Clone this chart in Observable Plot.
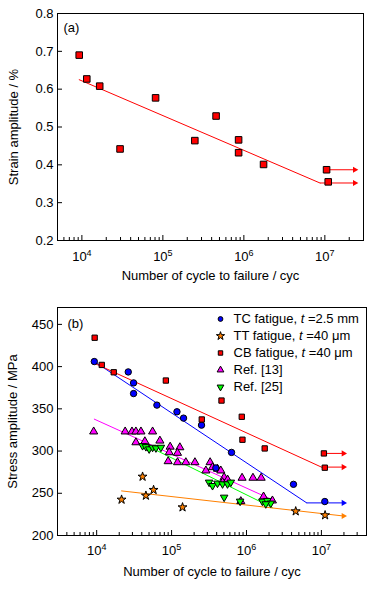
<!DOCTYPE html>
<html><head><meta charset="utf-8">
<script src="https://cdn.jsdelivr.net/npm/d3@7"></script>
<script src="https://cdn.jsdelivr.net/npm/@observablehq/plot@0.6"></script>
<style>
body{margin:0;background:#fff;font-family:"Liberation Sans",Arial,sans-serif}
#wrap{position:relative;width:375px;height:590px;background:#fff}
#pa{position:absolute;left:0;top:0}
#pb{position:absolute;left:0;top:290px}
svg text{white-space:pre}
</style></head>
<body><div id="wrap"><div id="pa"></div><div id="pb"></div></div>
<script>
// ---------- Panel (a) data ----------
const aCycles = [9270, 11500, 16600, 29600, 81300, 248000, 454000, 861000, 861000, 1750000, 10500000, 11000000];
const aStrain = [0.690, 0.627, 0.608, 0.442, 0.577, 0.464, 0.529, 0.466, 0.432, 0.401, 0.387, 0.355];
const aFitCycles = [9270, 8700000];
const aFitStrain = [0.625, 0.352];
const aRunFrom = [8700000, 10500000];
const aRunTo = [23400000, 23400000];
const aRunStrain = [0.352, 0.387];
const aYTicks = [0.2, 0.3, 0.4, 0.5, 0.6, 0.7, 0.8];

// ---------- Panel (b) data ----------
const tcCycles = [9300, 26400, 31100, 31100, 63700, 118000, 144500, 251000, 390000, 631000, 4240000, 11100000];
const tcStress = [406, 393.7, 380.7, 368.1, 354.4, 346.5, 339, 330.7, 280, 298.4, 260.6, 240.2];
const ttCycles = [21500, 41000, 45400, 57500, 140000, 4540000, 11200000];
const ttStress = [242.5, 269.7, 247.2, 254, 233.4, 228.7, 224];
const cbCycles = [9400, 11700, 16900, 83900, 253000, 464000, 865000, 883000, 1750000, 10800000, 11100000];
const cbStress = [434.2, 402, 393.3, 383.5, 337.4, 359.8, 340.6, 313.4, 303.1, 297.2, 280.3];
const r13Cycles = [9120, 24000, 29600, 33400, 39000, 55800, 33400, 44000, 69800, 95700, 129000, 120000, 93000, 90000, 120000, 155000, 205000, 327000, 287000, 410000, 454000, 503000, 479000, 352000, 560000, 873000, 1220000, 1570000, 1690000, 2220000, 840000];
const r13Stress = [323, 323, 323, 323, 323, 323, 310.2, 311.4, 312.2, 305, 304.3, 297.7, 298.4, 287.8, 286.6, 286.6, 286.6, 286.6, 276.8, 278.8, 276.8, 268.9, 263, 280.7, 266, 268.2, 268.2, 268.2, 246, 241.3, 240.5];
const r25Cycles = [41000, 45400, 50200, 55800, 61800, 72000, 317000, 352000, 410000, 479000, 558000, 618000, 503000, 822000, 1630000, 1900000, 2110000, 1810000];
const r25Stress = [306.3, 305.1, 302.4, 304.3, 303.6, 304.3, 263, 259, 261.8, 261, 261, 263, 245.2, 240.5, 240.5, 241.3, 238.2, 237.4];

const tcFitCycles = [9300, 6370000], tcFitStress = [406, 238.6];
const cbFitCycles = [9300, 10000000], cbFitStress = [404, 281];
const r13FitCycles = [9300, 2220000], r13FitStress = [337.8, 242.2];
const r25FitCycles = [43000, 2220000], r25FitStress = [308, 233];
const ttFitCycles = [21500, 19700000], ttFitStress = [252.8, 223.1];

const bRunFrom = [6370000, 10000000, 10800000];
const bRunTo = [19700000, 19700000, 19700000];
const bRunStress = [238.6, 281, 297.2];
const bRunColor = ["#0000ff", "#ff0000", "#ff0000"];

const bYTicks = [200, 250, 300, 350, 400, 450];
const xMajorA = [1e4, 1e5, 1e6, 1e7];
const xMajorB = [1e4, 1e5, 1e6, 1e7];

const legendLabels = ["TC fatigue, t =2.5 mm", "TT fatigue, t =40 μm", "CB fatigue, t =40 μm", "Ref. [13]", "Ref. [25]"];
const xLabel = "Number of cycle to failure / cyc";
const yLabelA = "Strain amplitude / %";
const yLabelB = "Stress amplitude / MPa";

// ---------- helpers ----------
const zip = (xs, ys) => xs.map((n, i) => ({n, s: ys[i]}));
const minorTicks = (lo, hi) => { const o = []; for (let e = 3; e <= 7; e++) for (let m = 2; m <= 9; m++) { const v = m * 10 ** e; if (v > lo * 1.0001 && v < hi * 0.9999) o.push(v); } return o; };
const triDown = {draw(c, s) { const y = Math.sqrt(s / (Math.sqrt(3) * 3)), x = Math.sqrt(3) * y; c.moveTo(0, 2 * y); c.lineTo(-x, -y); c.lineTo(x, -y); c.closePath(); }};
const triRight = {draw(c, s) { const y = Math.sqrt(s / (Math.sqrt(3) * 3)), x = Math.sqrt(3) * y; c.moveTo(2 * y, 0); c.lineTo(-y, -x); c.lineTo(-y, x); c.closePath(); }};
const expFmt = d => "10^" + Math.round(Math.log10(d));
const style = {fontFamily: "'Liberation Sans', Arial, sans-serif", fontSize: "13px", color: "black", background: "white", overflow: "visible"};

function supers(svg) {
  d3.select(svg).selectAll('g[aria-label="x-axis tick label"] text').each(function () {
    const t = this.textContent; const p = t.split("^"); if (p.length < 2) return;
    this.textContent = p[0];
    d3.select(this).append("tspan").attr("dy", "-5").attr("font-size", "9").text(p[1]);
  });
}
function italics(svg) {
  d3.select(svg).selectAll("text").each(function () {
    const t = this.textContent; const k = t.indexOf(", t =");
    if (k < 0) return;
    const sel = d3.select(this); this.textContent = "";
    sel.append("tspan").text(t.slice(0, k + 2));
    sel.append("tspan").attr("font-style", "italic").text("t");
    sel.append("tspan").text(t.slice(k + 3));
  });
}

// ---------- Panel (a) ----------
const HA = 290, mTA = 13, mBA = 50, mLA = 57, mRA = 12;
const ihA = HA - mTA - mBA, iwA = 375 - mLA - mRA;
const runA = aRunFrom.map((f, i) => ({from: f, to: aRunTo[i], s: aRunStrain[i]}));
const A = Plot.plot({
  width: 375, height: HA, marginLeft: mLA, marginRight: mRA, marginTop: mTA, marginBottom: mBA,
  style,
  x: {type: "log", domain: [5000, 3e7], axis: null},
  y: {domain: [0.2, 0.8], axis: null},
  marks: [
    Plot.frame({stroke: "black"}),
    Plot.tickX(minorTicks(5000, 3e7), {x: d => d, insetTop: ihA - 3, stroke: "black"}),
    Plot.tickX(xMajorA, {x: d => d, insetTop: ihA - 5, stroke: "black"}),
    Plot.tickY(aYTicks, {y: d => d, insetRight: iwA - 5, stroke: "black"}),
    Plot.axisX(xMajorA, {tickSize: 0, tickPadding: 11, tickFormat: expFmt, label: null}),
    Plot.axisY(aYTicks, {tickSize: 0, tickPadding: 4, tickFormat: d3.format(".1f"), label: null}),
    Plot.text([xLabel], {frameAnchor: "bottom", dy: 35, textAnchor: "middle", lineAnchor: "middle"}),
    Plot.text([yLabelA], {frameAnchor: "left", dx: -44, rotate: -90, textAnchor: "middle", lineAnchor: "middle"}),
    Plot.text(["(a)"], {frameAnchor: "top-left", dx: 6, dy: 14, textAnchor: "start", lineAnchor: "middle"}),
    Plot.line(zip(aFitCycles, aFitStrain), {x: "n", y: "s", stroke: "#ff0000", strokeWidth: 1}),
    Plot.link(runA, {x1: "from", x2: "to", y1: "s", y2: "s", stroke: "#ff0000", strokeWidth: 1}),
    Plot.dot(runA, {x: "to", y: "s", symbol: triRight, r: 2.3, fill: "#ff0000"}),
    Plot.dot(zip(aCycles, aStrain), {x: "n", y: "s", symbol: "square", r: 3.7, fill: "#ff0000", stroke: "black", strokeWidth: 1})
  ]
});
supers(A);
document.getElementById("pa").append(A);

// ---------- Panel (b) ----------
const HB = 300, mTB = 17, mBB = 55, mLB = 57, mRB = 9;
const ihB = HB - mTB - mBB, iwB = 375 - mLB - mRB;
const runB = bRunFrom.map((f, i) => ({from: f, to: bRunTo[i], s: bRunStress[i], c: bRunColor[i]}));
const ttEnd = [{n: ttFitCycles[1], s: ttFitStress[1]}];
const legSym = ["circle", "star", "square", "triangle", triDown];
const legFill = ["#0000ff", "#ff8000", "#ff0000", "#ff00ff", "#00ff00"];
const legR = [2.4, 2.6, 2.5, 2.5, 2.5];
const legendMarks = legendLabels.flatMap((lab, i) => [
  Plot.dot([lab], {frameAnchor: "top-left", dx: 163, dy: 11.5 + 17 * i, symbol: legSym[i], r: legR[i], fill: legFill[i], stroke: "black", strokeWidth: 1}),
  Plot.text([lab], {frameAnchor: "top-left", dx: 176, dy: 11.5 + 17 * i, textAnchor: "start", lineAnchor: "middle"})
]);
const B = Plot.plot({
  width: 375, height: HB, marginLeft: mLB, marginRight: mRB, marginTop: mTB, marginBottom: mBB,
  style,
  x: {type: "log", domain: [3000, 4e7], axis: null},
  y: {domain: [200, 470], axis: null},
  marks: [
    Plot.frame({stroke: "black"}),
    Plot.tickX(minorTicks(3000, 4e7), {x: d => d, insetTop: ihB - 3, stroke: "black"}),
    Plot.tickX(xMajorB, {x: d => d, insetTop: ihB - 5, stroke: "black"}),
    Plot.tickY(bYTicks, {y: d => d, insetRight: iwB - 5, stroke: "black"}),
    Plot.axisX(xMajorB, {tickSize: 0, tickPadding: 10, tickFormat: expFmt, label: null}),
    Plot.axisY(bYTicks, {tickSize: 0, tickPadding: 4, tickFormat: d => String(d), label: null}),
    Plot.text([xLabel], {frameAnchor: "bottom", dy: 36.5, textAnchor: "middle", lineAnchor: "middle"}),
    Plot.text([yLabelB], {frameAnchor: "left", dx: -45, rotate: -90, textAnchor: "middle", lineAnchor: "middle"}),
    Plot.text(["(b)"], {frameAnchor: "top-left", dx: 10, dy: 16, textAnchor: "start", lineAnchor: "middle"}),
    Plot.line(zip(r13FitCycles, r13FitStress), {x: "n", y: "s", stroke: "#ff00ff", strokeWidth: 1}),
    Plot.line(zip(r25FitCycles, r25FitStress), {x: "n", y: "s", stroke: "#00ff00", strokeWidth: 1}),
    Plot.line(zip(ttFitCycles, ttFitStress), {x: "n", y: "s", stroke: "#ff8000", strokeWidth: 1}),
    Plot.dot(ttEnd, {x: "n", y: "s", symbol: triRight, r: 2.3, fill: "#ff8000"}),
    Plot.line(zip(tcFitCycles, tcFitStress), {x: "n", y: "s", stroke: "#0000ff", strokeWidth: 1}),
    Plot.line(zip(cbFitCycles, cbFitStress), {x: "n", y: "s", stroke: "#ff0000", strokeWidth: 1}),
    Plot.link(runB, {x1: "from", x2: "to", y1: "s", y2: "s", stroke: "c", strokeWidth: 1}),
    Plot.dot(runB, {x: "to", y: "s", symbol: triRight, r: 2.3, fill: "c"}),
    Plot.dot(zip(r13Cycles, r13Stress), {x: "n", y: "s", symbol: "triangle", r: 3.0, fill: "#ff00ff", stroke: "black", strokeWidth: 1}),
    Plot.dot(zip(r25Cycles, r25Stress), {x: "n", y: "s", symbol: triDown, r: 2.8, fill: "#00ff00", stroke: "black", strokeWidth: 1}),
    Plot.dot(zip(tcCycles, tcStress), {x: "n", y: "s", symbol: "circle", r: 3.2, fill: "#0000ff", stroke: "black", strokeWidth: 1}),
    Plot.dot(zip(cbCycles, cbStress), {x: "n", y: "s", symbol: "square", r: 3, fill: "#ff0000", stroke: "black", strokeWidth: 1}),
    Plot.dot(zip(ttCycles, ttStress), {x: "n", y: "s", symbol: "star", r: 2.8, fill: "#ff8000", stroke: "black", strokeWidth: 1}),
    ...legendMarks
  ]
});
supers(B);
italics(B);
document.getElementById("pb").append(B);
</script>
</body></html>
